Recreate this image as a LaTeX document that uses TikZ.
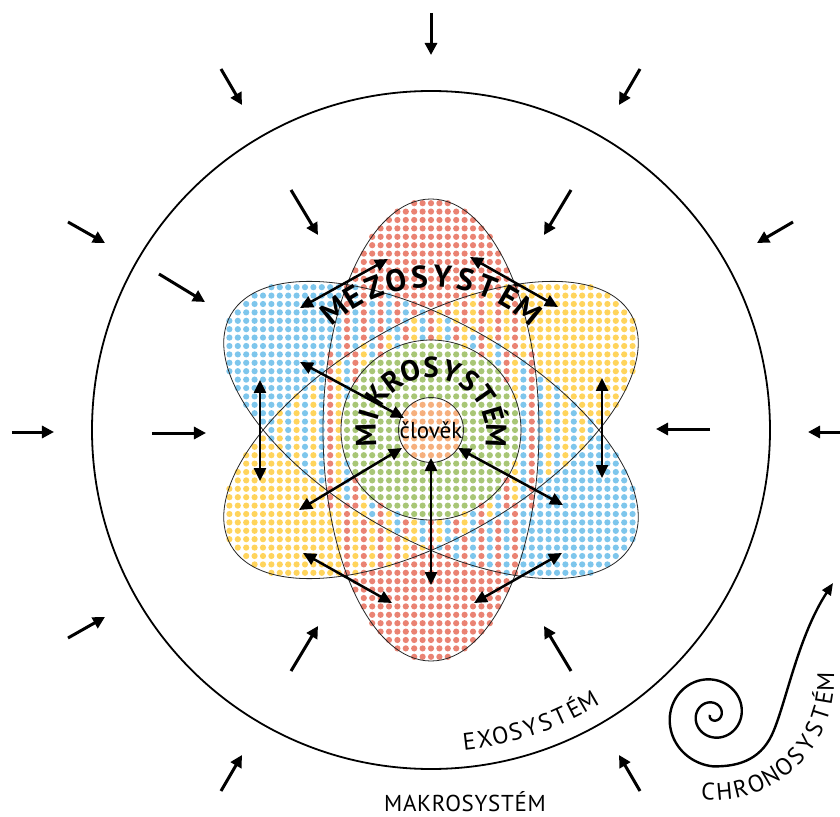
\documentclass[tikz,border=0pt]{standalone}
\usepackage{fontspec}
\setmainfont{PT Sans}
\newfontfamily\spacedfont[LetterSpace=3]{PT Sans}
\usetikzlibrary{arrows.meta}
\definecolor{cR}{RGB}{234,131,115}
\definecolor{cB}{RGB}{126,198,236}
\definecolor{cY}{RGB}{255,212,92}
\definecolor{cG}{RGB}{168,198,118}
\definecolor{cO}{RGB}{246,176,126}
\newlength\atlw
% #1 font, #2 cx, #3 cy, #4 radius, #5 start angle, #6 end angle, #7 letters, #8 name prefix
\newcommand\arctext[8]{%
  \gdef\atW{0}\gdef\atN{0}%
  \foreach \ch in {#7}{\settowidth\atlw{#1\ch}\pgfmathsetmacro\atT{\atW+\atlw}\xdef\atW{\atT}\pgfmathtruncatemacro\atM{\atN+1}\xdef\atN{\atM}}%
  \pgfmathsetmacro\atL{abs(#6-#5)/180*pi*#4}%
  \pgfmathsetmacro\atG{(\atL-\atW)/(\atN-1)}%
  \gdef\atP{0}%
  \foreach \ch [count=\k] in {#7}{%
    \settowidth\atlw{#1\ch}%
    \pgfmathsetmacro\atF{(\atP+\atlw/2)/\atL}%
    \pgfmathsetmacro\atA{#5+(#6-#5)*\atF}%
    \pgfmathsetmacro\atR{\atA+ifthenelse(#6>#5,90,-90)}%
    \node[inner sep=0pt,anchor=base,font=#1,rotate=\atR] (#8\k) at ({#2+#4*cos(\atA)},{#3+#4*sin(\atA)}) {\ch};%
    \pgfmathsetmacro\atQ{\atP+\atlw+\atG}\xdef\atP{\atQ}%
  }%
}
\tikzset{
  inarr/.style={line width=3pt,-{Triangle[length=12pt,width=12pt]}},
  dblarr/.style={line width=2.5pt,{Triangle[length=13pt,width=12pt]}-{Triangle[length=13pt,width=12pt]}},
  outl/.style={draw=black!85,line width=0.8pt},
}
\begin{document}
\begin{tikzpicture}[x=1pt,y=1pt]
\useasboundingbox (-431,-386) rectangle (409,430);
\fill[white] (-431,-386) rectangle (409,430);
% dotted fills
\foreach \i in {-25,...,25}{
  \foreach \j in {-28,...,28}{
    \pgfmathsetmacro\X{8.4*\i}
    \pgfmathsetmacro\Y{8.4*\j}
    \pgfmathtruncatemacro\inR{((\X)/108)^2+((\Y)/231)^2<=1}
    \pgfmathtruncatemacro\inB{((0.866*(\X)-0.5*(\Y))/231)^2+((0.5*(\X)+0.866*(\Y))/108)^2<=1}
    \pgfmathtruncatemacro\inY{((0.866*(\X)+0.5*(\Y))/231)^2+((0.866*(\Y)-0.5*(\X))/108)^2<=1}
    \pgfmathtruncatemacro\kk{\inR+\inB+\inY}
    \ifnum\kk>0
      \pgfmathtruncatemacro\idx{mod(\i+60,\kk)}
      \def\col{cR}\def\cnt{0}
      \ifnum\inR=1 \ifnum\idx=\cnt \def\col{cR}\fi \def\cnt{1}\fi
      \ifnum\inY=1 \ifnum\idx=\cnt \def\col{cY}\fi \pgfmathtruncatemacro\cnt{\cnt+1}\fi
      \ifnum\inB=1 \ifnum\idx=\cnt \def\col{cB}\fi\fi
      \pgfmathtruncatemacro\inG{((\X)/90)^2+((\Y)/90)^2<=1}
      \ifnum\inG=1 \def\col{cG}\fi
      \pgfmathtruncatemacro\inO{((\X)/32)^2+((\Y)/32)^2<=1}
      \ifnum\inO=1 \def\col{cO}\fi
      \fill[\col] (\X,\Y) circle[radius=3.1];
    \fi
  }
}
% outlines
\draw[outl] (0,0) ellipse[x radius=108,y radius=231];
\draw[outl,rotate=-30] (0,0) ellipse[x radius=231,y radius=108];
\draw[outl,rotate=30] (0,0) ellipse[x radius=231,y radius=108];
\draw[outl] (0,0) circle[radius=90];
\node[circle,outl,minimum size=64pt,inner sep=0pt,font=\fontsize{23}{26}\selectfont] (clovek) at (0,0) {člověk};
% big circle
\draw[line width=1.8pt] (0,0) circle[radius=339];
% labels
\arctext{\bfseries\fontsize{31}{35}\selectfont}{0}{0}{143}{129}{51}{M,E,Z,O,S,Y,S,T,É,M}{mz}
\arctext{\bfseries\fontsize{29}{33}\selectfont}{0}{-3}{55}{182}{-2}{M,I,K,R,O,S,Y,S,T,É,M}{mk}
\arctext{\fontsize{24}{28}\selectfont}{0}{0}{322}{-83}{-60}{E,X,O,S,Y,S,T,É,M}{ex}
\arctext{\fontsize{24}{28}\selectfont}{283}{-250}{120}{-93}{-1}{C,H,R,O,N,O,S,Y,S,T,É,M}{chr}
\node[font=\spacedfont\fontsize{23}{27}\selectfont,anchor=base,inner sep=0pt] (makro) at (34,-381) {MAKROSYSTÉM};
% single arrows
\foreach \n/\sx/\sy/\ex/\ey in {1/0/417/0/375, 2/-210/361/-189/325, 3/209/361/188/325,
  4/-363/208/-326/187, 5/362/208/326/187, 6/-419/-2/-377/-2, 7/409/-2/377/-2,
  8/-363/-208/-326/-187, 9/-210/-361/-189/-325, 10/209/-361/188/-325,
  11/-140/240/-113/195, 12/-272/156/-226/128, 13/-279/-3/-225/-3, 14/140/240/113/195,
  15/279/1/225/1, 16/-140/-241/-113/-196, 17/140/-241/113/-196}{
  \coordinate (s\n) at (\sx,\sy);
  \coordinate (e\n) at (\ex,\ey);
  \draw[inarr] (s\n) -- (e\n);
}
% double arrows
\foreach \n/\sx/\sy/\ex/\ey in {1/-131/122/-43/171, 2/39/173/127/123, 3/-171/50/-171/-51,
  4/171/52/171/-48, 5/-131/68/-27/12, 6/-132/-80/-29/-18, 7/27/-18/132/-75,
  8/0/-28/0/-155, 9/-128/-123/-39/-173, 10/131/-123/43/-173}{
  \coordinate (ds\n) at (\sx,\sy);
  \coordinate (de\n) at (\ex,\ey);
  \draw[dblarr] (ds\n) -- (de\n);
}
% chronosystem spiral
\coordinate (tailc1) at (310,-337);
\coordinate (tailc2) at (332,-328);
\coordinate (tailm) at (343,-300);
\coordinate (tailc3) at (356,-268);
\coordinate (tailc4) at (368,-205);
\coordinate (tailend) at (402,-153);
\draw[line width=2.4pt,-{Triangle[length=12pt,width=10pt]}]
  plot[domain=0:2.25,samples=220,variable=\t]
  ({282+(3+8*\t+6*\t*\t)*cos(180+360*\t)},{-285+(3+8*\t+6*\t*\t)*sin(180+360*\t)})
  .. controls (tailc1) and (tailc2) .. (tailm)
  .. controls (tailc3) and (tailc4) .. (tailend);
\end{tikzpicture}
\end{document}
